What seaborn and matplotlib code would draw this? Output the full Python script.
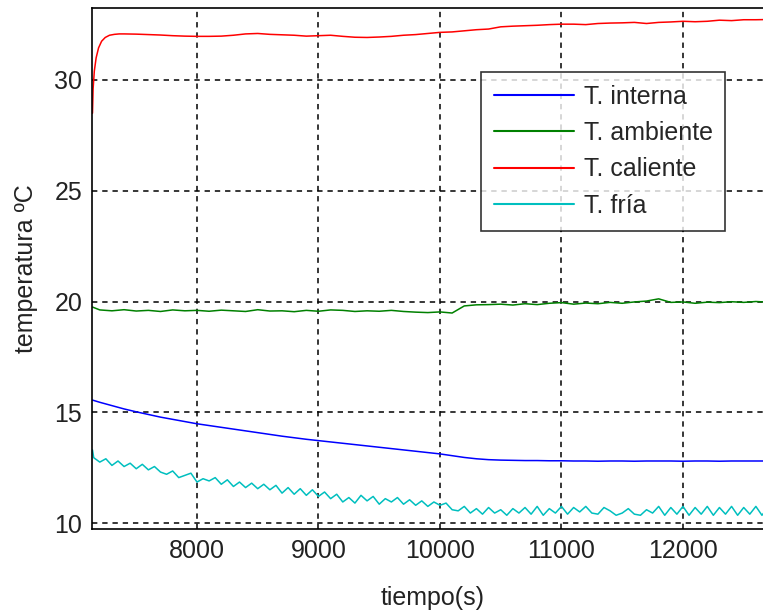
import numpy as np
import pandas as pd
import matplotlib
matplotlib.use("Agg")
import matplotlib.pyplot as plt
import seaborn as sns

# tiempos de muestreo (s)
t_main = np.concatenate([[7140], np.arange(7200, 12701, 100)])
t_cal = np.concatenate([[7140, 7145, 7155, 7170, 7190, 7215, 7245, 7280, 7320, 7360],
                        np.arange(7400, 12701, 100)])
t_fria = np.concatenate([[7140], np.arange(7150, 12701, 50)])

t_interna = [15.55, 15.45, 15.30, 15.15, 15.02, 14.90, 14.78, 14.68, 14.58, 14.48,
             14.40, 14.32, 14.24, 14.16, 14.08, 14.00, 13.92, 13.85, 13.78, 13.72,
             13.66, 13.60, 13.54, 13.48, 13.42, 13.36, 13.30, 13.24, 13.18, 13.12,
             13.04, 12.96, 12.90, 12.86, 12.84, 12.83, 12.82, 12.82, 12.81, 12.81,
             12.80, 12.80, 12.79, 12.80, 12.80, 12.79, 12.80, 12.80, 12.80, 12.79,
             12.80, 12.80, 12.79, 12.80, 12.80, 12.80, 12.80]

t_ambiente = [19.75, 19.62, 19.58, 19.63, 19.57, 19.60, 19.55, 19.62, 19.58, 19.60,
              19.56, 19.61, 19.58, 19.55, 19.63, 19.57, 19.58, 19.54, 19.60, 19.56,
              19.62, 19.60, 19.55, 19.58, 19.56, 19.60, 19.55, 19.52, 19.50, 19.53,
              19.48, 19.80, 19.85, 19.86, 19.88, 19.84, 19.90, 19.86, 19.92, 19.95,
              19.88, 19.93, 19.90, 19.96, 19.92, 19.98, 20.02, 20.12, 19.96, 19.98,
              19.92, 19.97, 19.95, 19.99, 19.96, 20.00, 19.97]

t_caliente = [28.5, 29.6, 30.4, 31.0, 31.45, 31.75, 31.92, 32.02, 32.06, 32.08,
              32.08, 32.07, 32.05, 32.03, 32.00, 31.98,
              31.97, 31.97, 31.98, 32.02, 32.08, 32.10, 32.06, 32.04, 32.02, 31.98,
              32.00, 32.02, 31.97, 31.93, 31.92, 31.94, 31.97, 32.02, 32.05, 32.10,
              32.15, 32.17, 32.22, 32.27, 32.30, 32.40, 32.43, 32.45, 32.47, 32.50,
              32.52, 32.52, 32.50, 32.55, 32.57, 32.58, 32.60, 32.55, 32.60, 32.62,
              32.65, 32.63, 32.65, 32.70, 32.68, 32.72, 32.72, 32.73]

t_fria_vals = [13.30,
               12.95, 12.75, 12.90, 12.60, 12.80, 12.55, 12.70, 12.45, 12.65, 12.40,
               12.55, 12.30, 12.20, 12.35, 12.05, 12.15, 12.25, 11.85, 12.00, 11.90,
               12.05, 11.75, 11.95, 11.65, 11.85, 11.60, 11.80, 11.55, 11.75, 11.50,
               11.70, 11.35, 11.60, 11.30, 11.55, 11.25, 11.50, 11.20, 11.40, 11.10,
               11.30, 10.95, 11.15, 10.90, 11.25, 11.00, 11.20, 10.85, 11.10, 10.95,
               11.15, 10.85, 11.05, 10.80, 11.00, 10.75, 10.95, 10.80, 10.90, 10.60,
               10.55, 10.75, 10.45, 10.65, 10.40, 10.70, 10.45, 10.60, 10.35, 10.65,
               10.45, 10.70, 10.40, 10.75, 10.35, 10.65, 10.45, 10.75, 10.40, 10.70,
               10.50, 10.75, 10.45, 10.40, 10.70, 10.55, 10.35, 10.45, 10.65, 10.40,
               10.35, 10.60, 10.45, 10.75, 10.35, 10.70, 10.40, 10.75, 10.35, 10.70,
               10.40, 10.75, 10.35, 10.70, 10.40, 10.75, 10.35, 10.70, 10.40, 10.75,
               10.35, 10.70]

nombres = ["T. interna", "T. ambiente", "T. caliente", "T. fría"]
colores = ["#0000ff", "#008000", "#ff0000", "#00bfbf"]

df = pd.concat([
    pd.DataFrame({"tiempo": t_main, "temp": t_interna, "serie": nombres[0]}),
    pd.DataFrame({"tiempo": t_main, "temp": t_ambiente, "serie": nombres[1]}),
    pd.DataFrame({"tiempo": t_cal, "temp": t_caliente, "serie": nombres[2]}),
    pd.DataFrame({"tiempo": t_fria, "temp": t_fria_vals, "serie": nombres[3]}),
], ignore_index=True)

sns.set_theme(style="white")
plt.rcParams["font.family"] = ["Liberation Sans", "DejaVu Sans"]

fig = plt.figure(figsize=(7.63, 6.14), dpi=100)
ax = fig.add_axes([92 / 763, 85 / 614, 681 / 763, 521 / 614])

sns.lineplot(data=df, x="tiempo", y="temp", hue="serie", hue_order=nombres,
             palette=colores, estimator=None, sort=False, linewidth=1.1, ax=ax)

ax.set_xlim(7136, 12741)
ax.set_ylim(9.73, 33.25)
ax.set_xticks([8000, 9000, 10000, 11000, 12000])
ax.set_yticks([10, 15, 20, 25, 30])
ax.grid(True, color="black", linestyle=(0, (3.5, 3.2)), linewidth=1.1)
ax.tick_params(direction="in", length=5, width=1.1, labelsize=18, pad=7,
               colors="black", labelcolor="#222222")
for s in ax.spines.values():
    s.set_color("black")
    s.set_linewidth(1.2)

ax.set_xlabel("tiempo(s)", fontsize=18, labelpad=17, color="#222222")
ax.set_ylabel("temperatura ºC", fontsize=18, labelpad=12, color="#222222")

handles, labels = ax.get_legend_handles_labels()
leg = ax.legend(handles, labels, loc="upper left",
                bbox_to_anchor=(481 / 763, 1 - 72 / 614), bbox_transform=fig.transFigure,
                fontsize=18, frameon=True, fancybox=False, edgecolor="black",
                handlelength=3.2, labelspacing=0.5, borderpad=0.5, handletextpad=0.4,
                borderaxespad=0)
leg.get_frame().set_linewidth(1.2)
for line in leg.get_lines():
    line.set_linewidth(1.5)

fig.savefig("out.png", dpi=100)
